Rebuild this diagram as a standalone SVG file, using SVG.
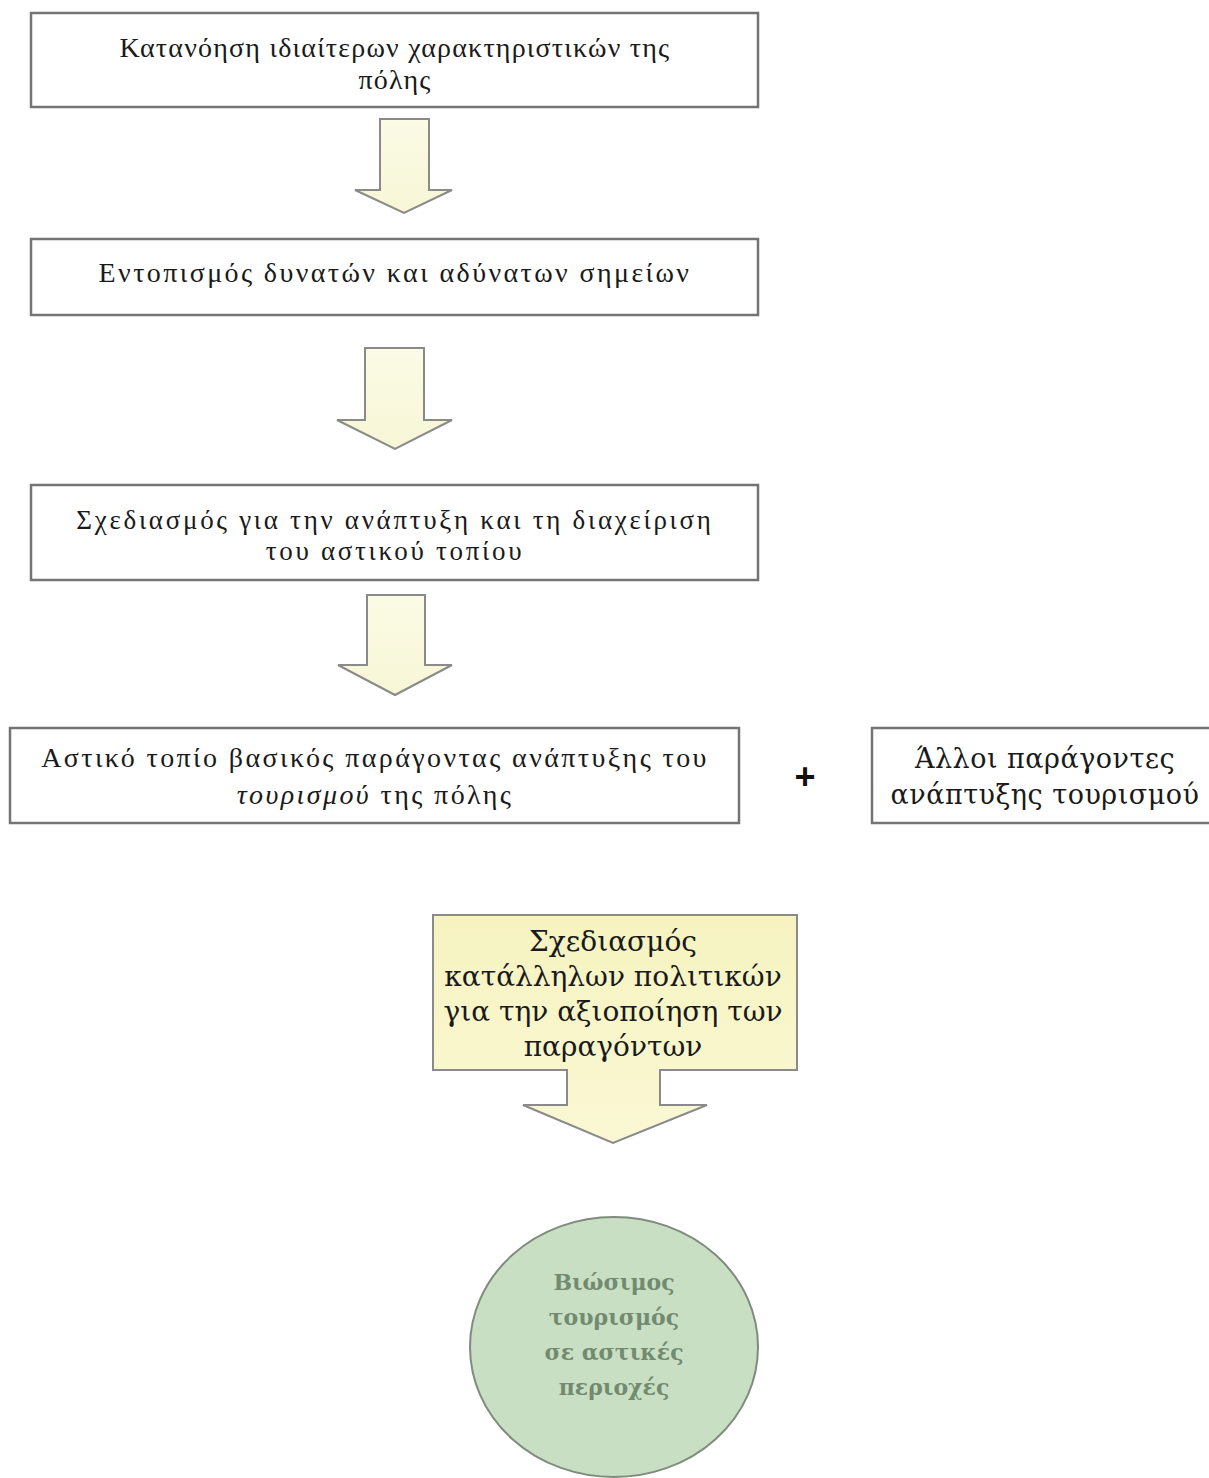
<svg xmlns="http://www.w3.org/2000/svg" width="1209" height="1478" viewBox="0 0 1209 1478">
<defs>
<linearGradient id="ay" x1="0" y1="0" x2="0" y2="1">
<stop offset="0" stop-color="#fbfbe6"/>
<stop offset="1" stop-color="#f7f6d6"/>
</linearGradient>
<linearGradient id="cy" x1="0" y1="0" x2="0" y2="1">
<stop offset="0" stop-color="#f6f3c0"/>
<stop offset="1" stop-color="#faf8d4"/>
</linearGradient>
<style>
.box{fill:#ffffff;stroke:#747474;stroke-width:2.5}
.arr{fill:url(#ay);stroke:#8a8a8a;stroke-width:2;stroke-linejoin:miter}
.t{font-family:"Liberation Serif","Times New Roman",serif;font-size:28px;letter-spacing:2.4px;fill:#1a1a1a;text-anchor:middle}
.t1{letter-spacing:1.2px}
.t3{font-size:27px;letter-spacing:2.7px}
.w{font-family:"DejaVu Serif",serif;font-size:27px;letter-spacing:0.5px;fill:#1a1a1a;text-anchor:middle}
.c{font-family:"DejaVu Serif",serif;font-size:28px;fill:#1a1a1a;text-anchor:middle}
.g{font-family:"DejaVu Serif",serif;font-size:22px;font-weight:bold;fill:#728b70;text-anchor:middle}
</style>
</defs>
<rect width="1209" height="1478" fill="#ffffff"/>
<g id="n1">
<rect class="box" x="31" y="13" width="727" height="94"/>
<text class="t t1" x="395" y="57">Κατανόηση ιδιαίτερων χαρακτηριστικών της</text>
<text class="t t1" x="395" y="89">πόλης</text>
</g>
<g id="n2">
<rect class="box" x="31" y="239" width="727" height="76"/>
<text class="t" x="395" y="282">Εντοπισμός δυνατών και αδύνατων σημείων</text>
</g>
<g id="n3">
<rect class="box" x="31" y="485" width="727" height="95"/>
<text class="t t3" x="395" y="529">Σχεδιασμός για την ανάπτυξη και τη διαχείριση</text>
<text class="t t3" x="395" y="560">του αστικού τοπίου</text>
</g>
<g id="n4">
<rect class="box" x="10" y="728" width="729" height="95"/>
<text class="t" x="375" y="767">Αστικό τοπίο βασικός παράγοντας ανάπτυξης του</text>
<text class="t" x="375" y="804"><tspan font-style="italic">τουρισμού</tspan> της πόλης</text>
</g>
<g id="plus">
<text x="805" y="789" font-family="Liberation Sans, Arial, sans-serif" font-size="36" font-weight="bold" text-anchor="middle" fill="#111">+</text>
</g>
<g id="n5">
<rect class="box" x="872" y="728" width="345" height="95"/>
<text class="w" x="1045" y="768">Άλλοι παράγοντες</text>
<text class="w" x="1045" y="804">ανάπτυξης τουρισμού</text>
</g>
<g id="connectors">
<path class="arr" d="M380,119 H429 V190 H452 L404,213 L355,190 H380 Z"/>
<path class="arr" d="M365,348 H424 V420 H452 L395,449 L337,420 H365 Z"/>
<path class="arr" d="M367,595 H425 V665 H452 L395,695 L338,665 H367 Z"/>
</g>
<g id="n6">
<path d="M433,915 H797 V1070 H660 V1105 H707 L613,1143 L523,1105 H567 V1070 H433 Z" fill="url(#cy)" stroke="#8a8a8a" stroke-width="2"/>
<text class="c" x="613" y="951">Σχεδιασμός</text>
<text class="c" x="613" y="986">κατάλληλων πολιτικών</text>
<text class="c" x="613" y="1021">για την αξιοποίηση των</text>
<text class="c" x="613" y="1056">παραγόντων</text>
</g>
<g id="n7">
<ellipse cx="614" cy="1347" rx="144" ry="130" fill="#c9dfc3" stroke="#7f8c7d" stroke-width="2"/>
<text class="g" x="614" y="1290">Βιώσιμος</text>
<text class="g" x="614" y="1325">τουρισμός</text>
<text class="g" x="614" y="1360">σε αστικές</text>
<text class="g" x="614" y="1395">περιοχές</text>
</g>
</svg>
